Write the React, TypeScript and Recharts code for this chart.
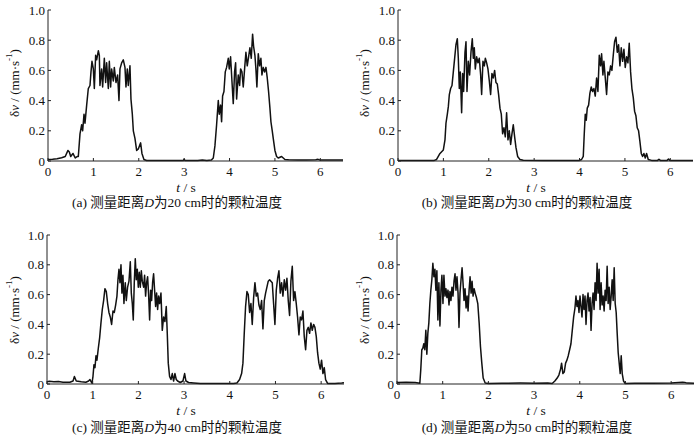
import { LineChart, Line, XAxis, YAxis } from 'recharts';

// (a) D = 20 cm
const TIME_A = [
  0, 0.1, 0.2, 0.3, 0.38, 0.44, 0.47, 0.5, 0.55, 0.6, 0.65,
  0.668, 0.705, 0.742, 0.764, 0.793, 0.815, 0.852, 0.888, 0.925, 0.947,
  0.969, 0.999, 1.021, 1.05, 1.072, 1.109, 1.131, 1.145, 1.182, 1.204,
  1.241, 1.27, 1.292, 1.329, 1.351, 1.38, 1.402, 1.439, 1.461, 1.498,
  1.534, 1.564, 1.586, 1.623, 1.659, 1.696, 1.718, 1.747, 1.769, 1.806,
  1.828, 1.858, 1.88, 1.916, 1.953, 1.99, 2.041, 2.07, 2.114, 2.173,
  2.4, 2.8, 2.98, 3.0, 3.02, 3.3, 3.4, 3.5, 3.6,
  3.642, 3.678, 3.715, 3.752, 3.774, 3.803, 3.825, 3.847, 3.877, 3.906,
  3.935, 3.972, 3.994, 4.023, 4.053, 4.082, 4.111, 4.134, 4.156, 4.192,
  4.222, 4.244, 4.273, 4.302, 4.332, 4.361, 4.39, 4.42, 4.449, 4.479,
  4.508, 4.53, 4.559, 4.581, 4.603, 4.633, 4.662, 4.691, 4.714, 4.743,
  4.772, 4.802, 4.831, 4.86, 4.89, 4.912, 4.941, 4.963, 5.0, 5.037,
  5.073, 5.147, 5.22,
  5.3, 5.5, 5.7, 5.9, 5.95, 6.0, 6.2, 6.5,
];
const VALUES_A = [
  0.010, 0.012, 0.015, 0.022, 0.030, 0.070, 0.060, 0.030, 0.050, 0.020, 0.030,
  0.030, 0.180, 0.240, 0.200, 0.310, 0.250, 0.370, 0.480, 0.500, 0.590,
  0.660, 0.610, 0.480, 0.700, 0.670, 0.730, 0.700, 0.500, 0.610, 0.490,
  0.680, 0.520, 0.650, 0.480, 0.660, 0.490, 0.610, 0.530, 0.620, 0.520,
  0.570, 0.400, 0.610, 0.650, 0.670, 0.620, 0.490, 0.610, 0.500, 0.630,
  0.410, 0.310, 0.200, 0.150, 0.070, 0.080, 0.120, 0.050, 0.010, 0.003,
  0.003, 0.003, 0.003, 0.012, 0.003, 0.004, 0.006, 0.004, 0.006,
  0.020, 0.100, 0.240, 0.400, 0.310, 0.370, 0.260, 0.430, 0.460, 0.590,
  0.620, 0.680, 0.610, 0.690, 0.530, 0.380, 0.590, 0.650, 0.410, 0.570,
  0.500, 0.610, 0.590, 0.490, 0.610, 0.720, 0.630, 0.690, 0.750, 0.680,
  0.840, 0.760, 0.700, 0.610, 0.490, 0.710, 0.630, 0.680, 0.570, 0.620,
  0.590, 0.620, 0.550, 0.460, 0.350, 0.260, 0.200, 0.150, 0.070, 0.030,
  0.020, 0.030, 0.010,
  0.008, 0.006, 0.006, 0.008, 0.011, 0.006, 0.006, 0.006,
];

// (b) D = 30 cm
const TIME_B = [
  0, 0.4, 0.8, 0.85, 0.925, 0.999, 1.035, 1.057, 1.087, 1.109, 1.131,
  1.16, 1.19, 1.219, 1.248, 1.277, 1.307, 1.329, 1.351, 1.373, 1.402,
  1.424, 1.446, 1.476, 1.498, 1.52, 1.549, 1.578, 1.608, 1.637, 1.659,
  1.681, 1.703, 1.733, 1.762, 1.791, 1.821, 1.843, 1.872, 1.902, 1.924,
  1.953, 1.982, 2.012, 2.041, 2.07, 2.1, 2.129, 2.158, 2.188, 2.217,
  2.247, 2.276, 2.305, 2.335, 2.364, 2.393, 2.423, 2.452, 2.482, 2.511,
  2.54, 2.57, 2.599, 2.636, 2.687, 2.76,
  3.2, 3.6, 4.0, 4.045, 4.082, 4.104, 4.126, 4.148, 4.17, 4.2,
  4.229, 4.258, 4.288, 4.317, 4.346, 4.376, 4.405, 4.435, 4.464, 4.486,
  4.515, 4.537, 4.567, 4.596, 4.625, 4.655, 4.684, 4.713, 4.743, 4.772,
  4.802, 4.831, 4.86, 4.89, 4.919, 4.949, 4.978, 5.007, 5.037, 5.066,
  5.095, 5.125, 5.154, 5.184, 5.213, 5.242, 5.271, 5.301, 5.33, 5.36,
  5.389, 5.418, 5.448, 5.477, 5.514, 5.587,
  5.72, 5.75, 5.78, 5.93, 5.96, 5.99, 6.5,
];
const VALUES_B = [
  0.004, 0.003, 0.004, 0.010, 0.050, 0.073, 0.140, 0.250, 0.310, 0.360, 0.440,
  0.480, 0.500, 0.590, 0.680, 0.770, 0.810, 0.680, 0.480, 0.590, 0.320,
  0.580, 0.460, 0.720, 0.790, 0.460, 0.660, 0.570, 0.720, 0.810, 0.680,
  0.750, 0.610, 0.690, 0.650, 0.680, 0.570, 0.440, 0.660, 0.630, 0.680,
  0.650, 0.610, 0.530, 0.440, 0.580, 0.550, 0.600, 0.520, 0.510, 0.440,
  0.350, 0.310, 0.180, 0.220, 0.160, 0.320, 0.140, 0.200, 0.110, 0.180,
  0.240, 0.160, 0.090, 0.030, 0.010, 0.005,
  0.004, 0.003, 0.004, 0.010, 0.030, 0.180, 0.310, 0.270, 0.350, 0.370,
  0.450, 0.490, 0.460, 0.480, 0.430, 0.550, 0.460, 0.700, 0.630, 0.710,
  0.570, 0.660, 0.550, 0.440, 0.590, 0.570, 0.630, 0.600, 0.700, 0.790,
  0.820, 0.720, 0.770, 0.630, 0.750, 0.660, 0.740, 0.620, 0.690, 0.650,
  0.780, 0.590, 0.480, 0.420, 0.330, 0.300, 0.220, 0.200, 0.130, 0.050,
  0.030, 0.050, 0.020, 0.050, 0.010, 0.004,
  0.004, 0.012, 0.004, 0.004, 0.013, 0.004, 0.003,
];

// (c) D = 40 cm
const TIME_C = [
  0, 0.05, 0.15, 0.25, 0.35, 0.5, 0.57, 0.6, 0.64, 0.75, 0.85, 0.91, 0.94, 0.984,
  1.006, 1.028, 1.05, 1.072, 1.093, 1.123, 1.152, 1.181, 1.21, 1.239,
  1.268, 1.298, 1.327, 1.356, 1.385, 1.414, 1.444, 1.473, 1.502, 1.531,
  1.553, 1.575, 1.597, 1.619, 1.64, 1.662, 1.684, 1.713, 1.735, 1.764,
  1.794, 1.823, 1.845, 1.867, 1.888, 1.91, 1.932, 1.954, 1.976, 1.998,
  2.02, 2.042, 2.064, 2.085, 2.115, 2.136, 2.158, 2.18, 2.202, 2.224,
  2.246, 2.268, 2.29, 2.311, 2.333, 2.355, 2.377, 2.399, 2.421, 2.443,
  2.465, 2.494, 2.523, 2.552, 2.581, 2.61, 2.632, 2.654, 2.683, 2.713,
  2.742, 2.771, 2.8, 2.829, 2.858, 2.917, 2.975, 3.012, 3.041, 3.099,
  3.209, 3.355, 3.7, 4.084, 4.157, 4.215, 4.259, 4.288, 4.317, 4.346,
  4.376, 4.405, 4.434, 4.463, 4.492, 4.522, 4.551, 4.58, 4.609, 4.638,
  4.667, 4.697, 4.726, 4.755, 4.784, 4.813, 4.842, 4.872, 4.901, 4.93,
  4.959, 4.988, 5.018, 5.047, 5.076, 5.105, 5.134, 5.163, 5.193, 5.222,
  5.251, 5.28, 5.309, 5.338, 5.368, 5.397, 5.426, 5.455, 5.484, 5.514,
  5.543, 5.572, 5.601, 5.63, 5.66, 5.689, 5.718, 5.747, 5.776, 5.805,
  5.835, 5.864, 5.893, 5.922, 5.951, 5.98, 6.009, 6.039, 6.068, 6.097,
  6.141, 6.3, 6.45, 6.5,
];
const VALUES_C = [
  0.015, 0.018, 0.015, 0.016, 0.012, 0.012, 0.020, 0.050, 0.020, 0.015, 0.012, 0.020, 0.030, 0.005,
  0.050, 0.130, 0.110, 0.190, 0.160, 0.240, 0.310, 0.410, 0.500, 0.560,
  0.640, 0.620, 0.540, 0.480, 0.450, 0.400, 0.490, 0.480, 0.530, 0.590,
  0.700, 0.770, 0.680, 0.800, 0.610, 0.730, 0.540, 0.680, 0.560, 0.650,
  0.690, 0.820, 0.610, 0.540, 0.430, 0.680, 0.840, 0.700, 0.770, 0.650,
  0.750, 0.650, 0.760, 0.690, 0.650, 0.730, 0.590, 0.680, 0.720, 0.600,
  0.430, 0.630, 0.560, 0.680, 0.740, 0.630, 0.520, 0.610, 0.500, 0.590,
  0.540, 0.610, 0.360, 0.450, 0.420, 0.520, 0.340, 0.140, 0.050, 0.030,
  0.070, 0.020, 0.070, 0.030, 0.020, 0.010, 0.020, 0.070, 0.020, 0.010,
  0.007, 0.004, 0.004, 0.003, 0.007, 0.030, 0.070, 0.140, 0.340, 0.520,
  0.620, 0.600, 0.480, 0.540, 0.400, 0.580, 0.680, 0.590, 0.610, 0.530,
  0.500, 0.560, 0.370, 0.560, 0.610, 0.650, 0.690, 0.700, 0.690, 0.680,
  0.540, 0.400, 0.630, 0.710, 0.760, 0.610, 0.680, 0.590, 0.700, 0.630,
  0.710, 0.560, 0.460, 0.690, 0.790, 0.560, 0.620, 0.540, 0.450, 0.330,
  0.450, 0.430, 0.490, 0.320, 0.230, 0.360, 0.380, 0.340, 0.410, 0.360,
  0.400, 0.380, 0.320, 0.210, 0.140, 0.100, 0.160, 0.070, 0.110, 0.030,
  0.004, 0.004, 0.006, 0.008,
];

// (d) D = 50 cm
const TIME_D = [
  0, 0.2, 0.4, 0.5, 0.521, 0.543, 0.565, 0.587, 0.609, 0.631, 0.653,
  0.675, 0.697, 0.719, 0.741, 0.763, 0.785, 0.808, 0.83, 0.851, 0.873,
  0.895, 0.917, 0.94, 0.962, 0.983, 1.006, 1.027, 1.05, 1.071, 1.093,
  1.116, 1.138, 1.159, 1.181, 1.203, 1.225, 1.248, 1.27, 1.291, 1.313,
  1.336, 1.357, 1.379, 1.401, 1.424, 1.445, 1.467, 1.489, 1.512, 1.534,
  1.555, 1.578, 1.599, 1.622, 1.643, 1.665, 1.688, 1.71, 1.739, 1.768,
  1.798, 1.827, 1.856, 1.886, 1.93, 2.003,
  2.3, 2.7, 3.0, 3.3, 3.396, 3.455, 3.506, 3.543, 3.58, 3.602,
  3.631, 3.66, 3.69, 3.719, 3.748, 3.778, 3.807, 3.836, 3.866, 3.895,
  3.917, 3.939, 3.961, 3.983, 4.005, 4.027, 4.049, 4.071, 4.093, 4.115,
  4.137, 4.159, 4.181, 4.203, 4.225, 4.247, 4.269, 4.291, 4.313, 4.335,
  4.357, 4.379, 4.401, 4.423, 4.445, 4.467, 4.489, 4.511, 4.533, 4.555,
  4.577, 4.599, 4.621, 4.643, 4.665, 4.687, 4.709, 4.731, 4.753, 4.775,
  4.797, 4.819, 4.841, 4.863, 4.885, 4.907, 4.929, 4.958, 4.995,
  5.2, 5.6, 6.0, 6.25, 6.3, 6.35, 6.5,
];
const VALUES_D = [
  0.010, 0.012, 0.010, 0.005, 0.100, 0.230, 0.240, 0.270, 0.230, 0.360, 0.200,
  0.340, 0.410, 0.540, 0.630, 0.700, 0.810, 0.720, 0.770, 0.630, 0.760,
  0.430, 0.680, 0.390, 0.630, 0.730, 0.540, 0.730, 0.590, 0.640, 0.580,
  0.630, 0.530, 0.620, 0.560, 0.650, 0.590, 0.690, 0.740, 0.630, 0.720,
  0.610, 0.380, 0.610, 0.700, 0.780, 0.680, 0.560, 0.640, 0.510, 0.590,
  0.490, 0.630, 0.720, 0.610, 0.690, 0.590, 0.640, 0.610, 0.580, 0.540,
  0.410, 0.250, 0.140, 0.040, 0.007, 0.003,
  0.005, 0.006, 0.005, 0.006, 0.003, 0.020, 0.040, 0.060, 0.100, 0.140,
  0.070, 0.080, 0.140, 0.160, 0.190, 0.230, 0.270, 0.360, 0.450, 0.510,
  0.590, 0.520, 0.560, 0.480, 0.590, 0.520, 0.450, 0.600, 0.500, 0.590,
  0.400, 0.560, 0.610, 0.490, 0.580, 0.360, 0.540, 0.610, 0.500, 0.680,
  0.560, 0.810, 0.610, 0.770, 0.500, 0.680, 0.530, 0.590, 0.490, 0.630,
  0.560, 0.790, 0.540, 0.650, 0.500, 0.590, 0.700, 0.560, 0.780, 0.540,
  0.480, 0.340, 0.210, 0.140, 0.070, 0.190, 0.070, 0.020, 0.003,
  0.005, 0.005, 0.006, 0.012, 0.010, 0.006, 0.005,
];

const X_TICKS = [0, 1, 2, 3, 4, 5, 6];
const Y_TICKS = [0, 0.2, 0.4, 0.6, 0.8, 1.0];
const PANEL_TAGS = ['(a)', '(b)', '(c)', '(d)'];
const DISTANCES = ['20', '30', '40', '50'];

const SERIF = "'Liberation Serif', 'Times New Roman', serif";
const MIXED = "'Liberation Serif', 'Noto Sans CJK SC', serif";
const AXIS = '#222';

// ticks point inward, so the tick marks are drawn by hand
// eslint-disable-next-line @typescript-eslint/no-explicit-any
const YTick = ({ x, y, payload }: any) => {
  const v = payload.value;
  const ax = x + 3;
  return (
    <g>
      <text x={x} y={y} dy="0.35em" textAnchor="end" fontSize={13} fontFamily={SERIF} fill="#111">
        {v === 0 ? '0' : v.toFixed(1)}
      </text>
      <line x1={ax} x2={ax + 3} y1={y} y2={y} stroke={AXIS} />
    </g>
  );
};

// eslint-disable-next-line @typescript-eslint/no-explicit-any
const XTick = ({ x, y, payload }: any) => {
  const ay = y - 6;
  return (
    <g>
      <text x={x} y={y} dy="0.71em" textAnchor="middle" fontSize={13} fontFamily={SERIF} fill="#111">
        {payload.value}
      </text>
      <line x1={x} x2={x} y1={ay} y2={ay - 3} stroke={AXIS} />
    </g>
  );
};

interface PanelProps {
  times: number[];
  values: number[];
  left: number;
  top: number;
  height: number;
  marginTop: number;
  marginBottom: number;
  axisWidth: number;
  marginRight: number;
}

function Panel({ times, values, left, top, height, marginTop, marginBottom, axisWidth, marginRight }: PanelProps) {
  const data = times.map((t, i) => ({ t, v: values[i] }));
  return (
    <div style={{ position: 'absolute', left, top }}>
      <LineChart
        width={350}
        height={height}
        data={data}
        margin={{ top: marginTop, right: marginRight, bottom: marginBottom, left: 0 }}
      >
        <XAxis
          dataKey="t"
          type="number"
          domain={[0, 6.5]}
          ticks={X_TICKS}
          tick={(p) => <XTick {...p} />}
          tickSize={0}
          tickMargin={6}
          tickLine={false}
          axisLine={{ stroke: AXIS }}
          height={20}
          allowDataOverflow
        />
        <YAxis
          type="number"
          domain={[0, 1]}
          ticks={Y_TICKS}
          tick={(p) => <YTick {...p} />}
          tickSize={0}
          tickMargin={3}
          tickLine={false}
          axisLine={{ stroke: AXIS }}
          width={axisWidth}
        />
        <Line
          type="linear"
          dataKey="v"
          stroke="#111"
          strokeWidth={1.5}
          strokeLinejoin="round"
          dot={false}
          isAnimationActive={false}
        />
      </LineChart>
    </div>
  );
}

const PANELS = [
  { times: TIME_A, values: VALUES_A, left: 0, top: 0, height: 219, marginTop: 10, marginBottom: 38, axisWidth: 48, marginRight: 7, axisY: 161, yLabelY: 83 },
  { times: TIME_B, values: VALUES_B, left: 350, top: 0, height: 219, marginTop: 10, marginBottom: 38, axisWidth: 48, marginRight: 7, axisY: 161, yLabelY: 83 },
  { times: TIME_C, values: VALUES_C, left: 0, top: 220, height: 218, marginTop: 15, marginBottom: 34, axisWidth: 47, marginRight: 6, axisY: 384, yLabelY: 310 },
  { times: TIME_D, values: VALUES_D, left: 350, top: 220, height: 218, marginTop: 15, marginBottom: 34, axisWidth: 47, marginRight: 6, axisY: 384, yLabelY: 310 },
];

export default function App() {
  return (
    <div style={{ position: 'absolute', left: 0, top: 0, width: 700, height: 438, background: '#fff' }}>
      {PANELS.map((p, i) => (
        <Panel key={i} {...p} />
      ))}
      <svg width={700} height={438} style={{ position: 'absolute', left: 0, top: 0, pointerEvents: 'none' }}>
        {PANELS.map((p, i) => {
          const lx = p.left + 14;
          return (
            <g key={i} fill="#111">
              <text
                x={lx}
                y={p.yLabelY}
                transform={`rotate(-90 ${lx} ${p.yLabelY})`}
                textAnchor="middle"
                dominantBaseline="central"
                fontSize={13}
                fontFamily={SERIF}
              >
                δ<tspan fontStyle="italic">v</tspan> / (mm·s
                <tspan dy={-5} fontSize={9}>-1</tspan>
                <tspan dy={5}>)</tspan>
              </text>
              <text x={p.left + 186} y={p.axisY + 31} textAnchor="middle" fontSize={13.5} fontFamily={SERIF}>
                <tspan fontStyle="italic">t</tspan> / s
              </text>
              <text x={p.left + 177} y={p.axisY + (i < 2 ? 46 : 48)} textAnchor="middle" fontSize={13.5} fontFamily={MIXED}>
                {PANEL_TAGS[i]} 测量距离<tspan fontStyle="italic">D</tspan>为{DISTANCES[i]} cm时的颗粒温度
              </text>
            </g>
          );
        })}
      </svg>
    </div>
  );
}
